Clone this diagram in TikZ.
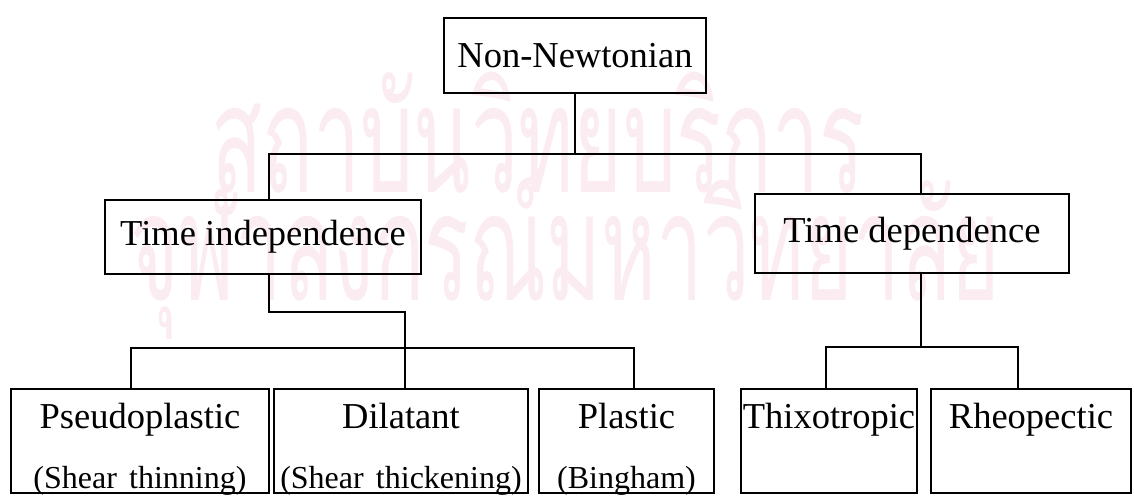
\documentclass[tikz,border=0pt]{standalone}
\usepackage{fontspec}
\setmainfont{Liberation Serif}
\newfontfamily\thaifont[Script=Thai]{Loma}
\definecolor{wmark}{RGB}{251,236,242}
\begin{document}
\begin{tikzpicture}[x=0.5pt,y=-0.5pt,
	box/.style={draw,line width=1pt,anchor=north west,inner sep=0pt,font=\fontsize{18.25}{22}\selectfont},
	leaf/.style={draw,line width=1pt,anchor=north west,inner sep=0pt,align=center,
		text height=19.5pt,text depth=32.5pt,font=\fontsize{18.25}{30}\selectfont},
	link/.style={line width=1pt}]
	\useasboundingbox (0,0) rectangle (1134,495);
	% watermark
	\node[wmark,anchor=base,inner sep=0pt,font=\thaifont\fontsize{75}{75}\selectfont] (wmtop) at (538,192) {\scalebox{0.56}[1]{สถาบันวิทยบริการ}};
	\node[wmark,anchor=base,inner sep=0pt,font=\thaifont\fontsize{75}{75}\selectfont] (wmbottom) at (565,300) {\scalebox{0.555}[1]{จุฬาลงกรณ์มหาวิทยาลัย}};
	% boxes
	\node[box,minimum width=131pt,minimum height=37.5pt] (nn) at (443,17) {Non-Newtonian};
	\node[box,minimum width=158pt,minimum height=37pt] (ti) at (104,199) {Time independence};
	\node[box,minimum width=157pt,minimum height=39.5pt] (td) at (754,193) {Time dependence};
	\node[leaf,text width=129pt] (pse) at (10,388) {Pseudoplastic\\{\fontsize{16}{30}\selectfont (Shear thinning)}};
	\node[leaf,text width=127pt] (dil) at (273,388) {Dilatant\\{\fontsize{16}{30}\selectfont (Shear thickening)}};
	\node[leaf,text width=87.5pt] (pla) at (538,388) {Plastic\\{\fontsize{16}{30}\selectfont (Bingham)}};
	\node[leaf,text width=88pt] (thx) at (740,388) {Thixotropic};
	\node[leaf,text width=100pt] (rhe) at (930,388) {Rheopectic};
	% connectors
	\draw[link] (nn.south) -- ++(0,60) coordinate (nnbar) -| ([xshift=3pt]ti.north);
	\draw[link] (nnbar) -| ([xshift=4.5pt]td.north);
	\draw[link] ([xshift=3pt]ti.south) -- ++(0,37) -| ([xshift=2pt]dil.north);
	\draw[link] ([xshift=-4.5pt]pse.north) -- ++(0,-40) -| ([xshift=3.75pt]pla.north);
	\draw[link] ([xshift=4.5pt]td.south) -- ++(0,73) coordinate (tdbar);
	\draw[link] ([xshift=-1.5pt]thx.north) |- (tdbar) -| ([xshift=-6.5pt]rhe.north);
\end{tikzpicture}
\end{document}
